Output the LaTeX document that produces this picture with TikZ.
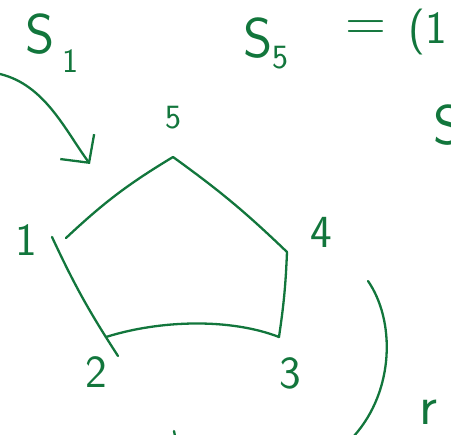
\documentclass[tikz,border=0pt]{standalone}
\usepackage{amsmath}
\usepackage{xcolor}
\usetikzlibrary{arrows.meta}

\definecolor{ink}{RGB}{18,118,60}

\begin{document}
\begin{tikzpicture}[x=1pt, y=-1pt, >={Straight Barb[length=20pt,width=42pt]}]
  \tikzset{
    pen/.style={draw=ink, line width=2.3pt, line cap=round},
    big/.style={text=ink, inner sep=0pt, font=\sffamily\fontsize{56}{56}\selectfont},
    mid/.style={text=ink, inner sep=0pt, font=\sffamily\fontsize{46}{46}\selectfont},
    tiny/.style={text=ink, inner sep=0pt, font=\sffamily\fontsize{34}{34}\selectfont}
  }
  \useasboundingbox (0,0) rectangle (451,435);
  % headings
  \node[big] (s1) at (40,34) {S};
  \node[tiny] (s1i) at (70,61) {1};
  \node[big] (s5) at (258,38) {S};
  \node[tiny] (s5i) at (280,58) {5};
  \node[big] (eq) at (366,31) {=};
  \node[mid, anchor=west] (lp) at (408,32) {(1};
  \node[big] (sr) at (448,125) {S};
  % vertices of the pentagon
  \coordinate (v1) at (66,238);
  \coordinate (v5) at (173,157);
  \coordinate (v4) at (287,252);
  \coordinate (v3) at (279,337);
  \coordinate (v2) at (106,337);
  \node[tiny] (l5) at (173,118) {5};
  \node[mid] (l1) at (26,240) {1};
  \node[mid] (l2) at (96,372) {2};
  \node[mid] (l3) at (290,373) {3};
  \node[mid] (l4) at (321,232) {4};
  % edges
  \draw[pen] (v1) to[bend left=6] (v5);
  \draw[pen] (v5) to[bend left=4] (v4);
  \draw[pen] (v4) to[bend left=3] (v3);
  \draw[pen] (v3) .. controls (230,318) and (160,320) .. (v2);
  \draw[pen] (118,356) to[bend left=4] (52,237);
  % arrow into the pentagon
  \coordinate (a0) at (0,74);
  \coordinate (a1) at (90,164);
  \draw[pen, ->] (a0) .. controls (45,85) and (65,130) .. (a1);
  % right bracket and the rest
  \coordinate (b0) at (368,281);
  \coordinate (b1) at (354,436);
  \draw[pen] (b0) .. controls (395,320) and (395,390) .. (b1);
  \node[big] (rr) at (428,412) {r};
  \coordinate (t0) at (174,431);
  \coordinate (t1) at (175,436);
  \draw[pen] (t0) -- (t1);
\end{tikzpicture}
\end{document}
